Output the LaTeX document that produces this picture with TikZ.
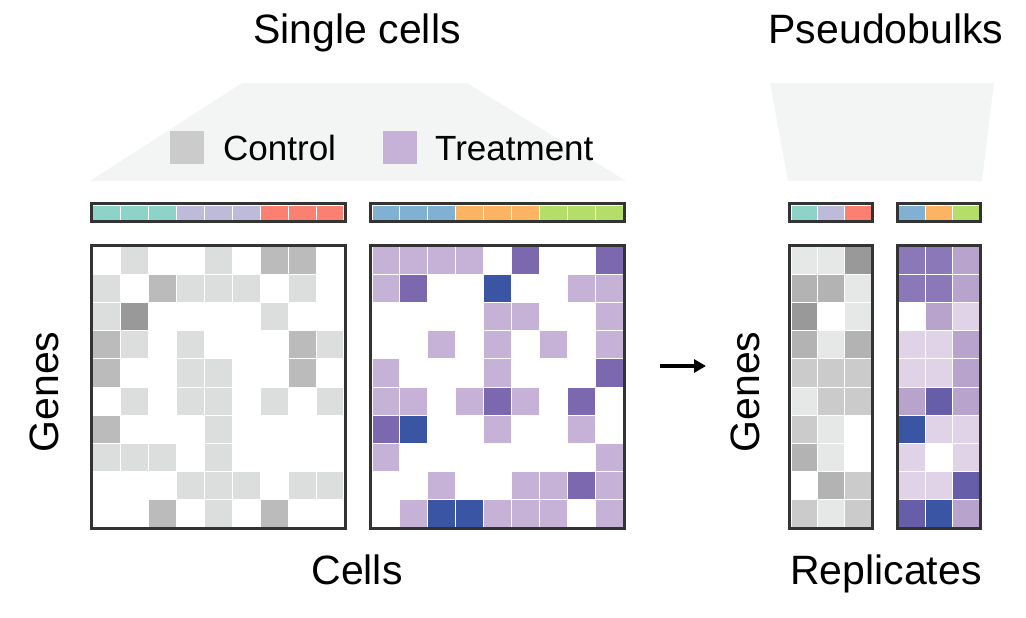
\documentclass[tikz,border=0pt]{standalone}
\usepackage{fontspec}
\setmainfont{Liberation Sans}
\usetikzlibrary{arrows.meta}
\definecolor{colW}{HTML}{FFFFFF}
\definecolor{colL}{HTML}{DCDDDD}
\definecolor{colM}{HTML}{BBBBBB}
\definecolor{colD}{HTML}{999999}
\definecolor{colP}{HTML}{C6B2D6}
\definecolor{colV}{HTML}{7B68AE}
\definecolor{colB}{HTML}{3A55A4}
\definecolor{colE}{HTML}{E6E7E7}
\definecolor{colC}{HTML}{CBCBCB}
\definecolor{colG}{HTML}{B3B3B3}
\definecolor{colq}{HTML}{E0D3E7}
\definecolor{colm}{HTML}{B8A3CD}
\definecolor{colv}{HTML}{8A78B8}
\definecolor{cold}{HTML}{675EAA}
\definecolor{colt}{HTML}{8DD3C7}
\definecolor{coll}{HTML}{BEBADA}
\definecolor{cols}{HTML}{FB8072}
\definecolor{colb}{HTML}{80B1D3}
\definecolor{colo}{HTML}{FDB462}
\definecolor{colg}{HTML}{B3DE69}
\definecolor{framec}{HTML}{333333}
\definecolor{trapc}{HTML}{F3F4F4}
\newcommand{\hmgrid}[5]{%
  \foreach \rw [count=\ri from 0] in {#5} {
    \foreach \cc [count=\ci from 0] in \rw {
      \fill[fill=col\cc, draw=white, line width=1] ({#1+\ci*#3},{#2+\ri*#4}) rectangle ++(#3,#4);
    }
  }%
}
\tikzset{
  frame/.style={draw=framec, line width=2.7},
  bigtext/.style={font=\fontsize{41}{48}\selectfont, inner sep=0},
  legtext/.style={font=\fontsize{35}{42}\selectfont, inner sep=0, anchor=base west},
}
\begin{document}
\begin{tikzpicture}[x=1pt,y=-1pt]
\useasboundingbox (0,0) rectangle (1026,618);
% trapezoids
\fill[trapc] (90,181) -- (242,83) -- (467,83) -- (626,181) -- cycle;
\fill[trapc] (788,181) -- (770,83) -- (994,83) -- (982,181) -- cycle;
% titles
\node[bigtext, anchor=base] (t1) at (357,44) {Single cells};
\node[bigtext, anchor=base] (t2) at (886,44) {Pseudobulks};
\node[bigtext, anchor=base] (t3) at (357,584) {Cells};
\node[bigtext, anchor=base] (t4) at (886,584) {Replicates};
\node[bigtext, anchor=base, rotate=90] (t5) at (58.5,392) {Genes};
\node[bigtext, anchor=base, rotate=90] (t6) at (759,392) {Genes};
% legend
\fill[colC] (170,131) rectangle (204,164);
\node[legtext] (lc) at (223,160) {Control};
\fill[colP] (383,131) rectangle (417,164);
\node[legtext] (lt) at (435,160) {Treatment};
% bars
\hmgrid{92.7}{205}{27.92}{15}{{t,t,t,l,l,l,s,s,s}}
\draw[frame] (91.35,203.65) rectangle (345.35,221.35);
\hmgrid{372}{205}{27.92}{15}{{b,b,b,o,o,o,g,g,g}}
\draw[frame] (370.65,203.65) rectangle (624.65,221.35);
\hmgrid{791}{205}{26.77}{15}{{t,l,s}}
\draw[frame] (789.65,203.65) rectangle (872.65,221.35);
\hmgrid{898.7}{205}{26.87}{15}{{b,o,g}}
\draw[frame] (897.35,203.65) rectangle (980.65,221.35);
% control grid
\hmgrid{92.7}{246.7}{27.92}{28.06}{
{W,L,W,W,L,W,M,M,W},
{L,W,M,L,L,L,W,L,W},
{L,D,W,W,W,W,L,W,W},
{M,L,W,L,W,W,W,M,L},
{M,W,W,L,L,W,W,M,W},
{W,L,W,L,L,W,L,W,L},
{M,W,W,W,L,W,W,W,W},
{L,L,L,W,L,W,W,W,W},
{W,W,W,L,L,L,W,L,L},
{W,W,M,W,L,W,M,W,W}}
\draw[frame] (91.35,245.35) rectangle (345.35,528.65);
% treatment grid
\hmgrid{372}{246.7}{27.92}{28.06}{
{P,P,P,P,W,V,W,W,V},
{P,V,W,W,B,W,W,P,P},
{W,W,W,W,P,P,W,W,P},
{W,W,P,W,P,W,P,W,P},
{P,W,W,W,P,W,W,W,V},
{P,P,W,P,V,P,W,V,W},
{V,B,W,W,P,W,W,P,W},
{P,W,W,W,W,W,W,W,P},
{W,W,P,W,W,P,P,V,P},
{W,P,B,B,P,P,P,W,P}}
\draw[frame] (370.65,245.35) rectangle (624.65,528.65);
% pseudobulk control
\hmgrid{791}{246.7}{26.77}{28.06}{
{E,E,D},{G,G,E},{D,W,E},{G,E,G},{C,C,C},
{E,C,C},{C,E,W},{G,E,W},{W,G,C},{C,E,C}}
\draw[frame] (789.65,245.35) rectangle (872.65,528.65);
% pseudobulk treatment
\hmgrid{898.7}{246.7}{26.87}{28.06}{
{v,v,m},{v,v,m},{W,m,q},{q,q,m},{q,q,m},
{m,d,m},{B,q,q},{q,W,q},{q,q,d},{d,B,m}}
\draw[frame] (897.35,245.35) rectangle (980.65,528.65);
% arrow
\coordinate (aS) at (660,366);
\coordinate (aE) at (706,366);
\draw[line width=4, -{Triangle[length=12pt,width=13pt]}] (aS) -- (aE);
\end{tikzpicture}
\end{document}
